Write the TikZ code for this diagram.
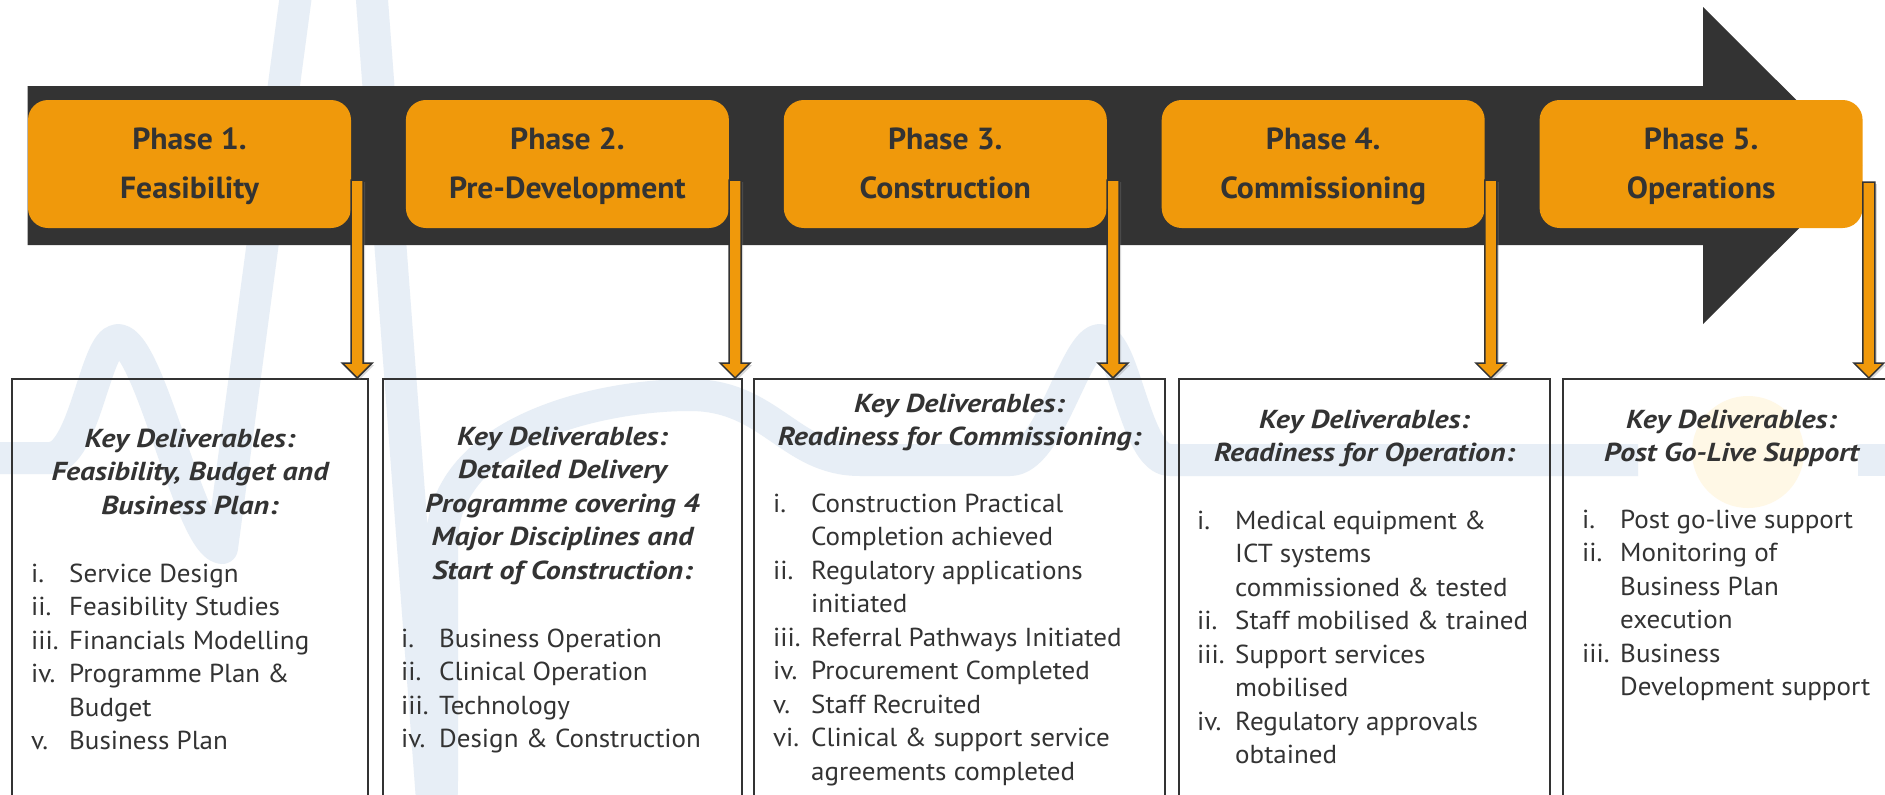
\documentclass[tikz,border=0pt]{standalone}
\usepackage{fontspec}
\setmainfont{PT Sans}[FakeStretch=1.04]
\newfontfamily\keyfont{PT Sans}[FakeStretch=1.15]
\usetikzlibrary{positioning,calc,shadows}
\definecolor{barGrey}{HTML}{333333}
\definecolor{inkGrey}{HTML}{333333}
\definecolor{phaseOrange}{HTML}{F0990B}
\definecolor{waveBlue}{HTML}{E7EEF6}
\definecolor{dotYellow}{HTML}{FFF8E6}
\newcommand{\dlabel}[1]{\makebox[38pt][l]{#1}}
\newcommand{\dindent}{\hspace*{38pt}}
\begin{document}
\begin{tikzpicture}[x=1pt, y=-1pt, node distance=54.5pt,
    phase/.style = {fill=phaseOrange, rounded corners=20pt, minimum width=323pt, minimum height=128pt,
                    inner sep=0pt, align=center, text=inkGrey, font=\bfseries\fontsize{30.5}{49}\selectfont},
    deliv/.style = {draw=inkGrey, line width=2pt, minimum height=462pt, inner sep=0pt, anchor=north},
    keytitle/.style = {anchor=north, align=center, inner sep=0pt, text=inkGrey,
                       font=\keyfont\bfseries\itshape\fontsize{26}{33.5}\selectfont},
    keylist/.style = {anchor=north west, align=left, inner sep=0pt, text=inkGrey,
                      font=\fontsize{26}{33.5}\selectfont},
    phasearrow/.style = {fill=phaseOrange, draw=inkGrey, line width=1.5pt,
                         drop shadow={shadow xshift=2pt, shadow yshift=-2pt, opacity=0.3},
                         to path={let \p1=(\tikztostart), \p2=(\tikztotarget) in
                           (\x1-6pt,\y1) -- (\x1+6pt,\y1) -- (\x1+6pt,\y2+15pt) -- (\x1+15pt,\y2+15pt)
                           -- (\x1,\y2) -- (\x1-15pt,\y2+15pt) -- (\x1-6pt,\y2+15pt) -- cycle}},
    wave/.style = {draw=waveBlue, line width=32pt, line join=round}]
    \useasboundingbox (0,0) rectangle (1885,795);
    \fill[white] (0,0) rectangle (1885,795);

    % heartbeat watermark
    \begin{scope}
        \clip (0,0) rectangle (1885,795);
        \draw[wave] (-20,458) -- (50,458) .. controls (85,458) and (95,340) .. (118,340)
            .. controls (150,340) and (190,545) .. (222,548) -- (302,-50) -- (310,-250) -- (355,-250)
            -- (372,0) -- (432,800) .. controls (434,830) and (442,830) .. (442,780) -- (442,540)
            .. controls (445,430) and (600,395) .. (690,395) .. controls (770,395) and (790,460) .. (860,460)
            -- (1010,460) .. controls (1050,460) and (1075,340) .. (1100,340)
            .. controls (1125,340) and (1135,460) .. (1170,460) -- (1638,460);
        \draw[wave] (1858,460) -- (1910,460);
        \fill[dotYellow] (1748,452) circle (56);
    \end{scope}

    % timeline bar
    \fill[barGrey] (27.5,86) -- (1703,86) -- (1703,7) -- (1862,165.5) -- (1703,324) -- (1703,245)
        -- (27.5,245) -- cycle;

    % phases
    \node[phase] (p1) at (189.5,164) {Phase 1.\strut\\Feasibility\strut};
    \node[phase] (p2) [right=of p1] {Phase 2.\strut\\Pre-Development\strut};
    \node[phase] (p3) [right=of p2] {Phase 3.\strut\\Construction\strut};
    \node[phase] (p4) [right=of p3] {Phase 4.\strut\\Commissioning\strut};
    \node[phase] (p5) [right=of p4] {Phase 5.\strut\\Operations\strut};

    % deliverable boxes
    \node[deliv, minimum width=356pt] (d1) at (190,378) {};
    \node[deliv, minimum width=359pt] (d2) at (562.5,378) {};
    \node[deliv, minimum width=411pt] (d3) at (959.5,378) {};
    \node[deliv, minimum width=371pt] (d4) at (1364.5,378) {};
    \node[deliv, minimum width=337pt] (d5) at (1731.5,378) {};

    \node[keytitle] (k1) at ([shift={(0,45.5)}]d1.north)
        {\strut Key Deliverables:\\Feasibility, Budget and\\Business Plan:};
    \node[keylist] (l1) at ([shift={(20,180.5)}]d1.north west)
        {\strut\dlabel{i.}Service Design\\\dlabel{ii.}Feasibility Studies\\\dlabel{iii.}Financials Modelling\\
         \dlabel{iv.}Programme Plan \&\\\dindent Budget\\\dlabel{v.}Business Plan};

    \node[keytitle] (k2) at ([shift={(0,43.5)}]d2.north)
        {\strut Key Deliverables:\\Detailed Delivery\\Programme covering 4\\Major Disciplines and\\Start of Construction:};
    \node[keylist] (l2) at ([shift={(19,245.5)}]d2.north west)
        {\strut\dlabel{i.}Business Operation\\\dlabel{ii.}Clinical Operation\\\dlabel{iii.}Technology\\
         \dlabel{iv.}Design \& Construction};

    \node[keytitle] (k3) at ([shift={(0,10.5)}]d3.north)
        {\strut Key Deliverables:\\Readiness for Commissioning:};
    \node[keylist] (l3) at ([shift={(20,110.5)}]d3.north west)
        {\strut\dlabel{i.}Construction Practical\\\dindent Completion achieved\\\dlabel{ii.}Regulatory applications\\
         \dindent initiated\\\dlabel{iii.}Referral Pathways Initiated\\\dlabel{iv.}Procurement Completed\\
         \dlabel{v.}Staff Recruited\\\dlabel{vi.}Clinical \& support service\\\dindent agreements completed};

    \node[keytitle] (k4) at ([shift={(0,26.5)}]d4.north)
        {\strut Key Deliverables:\\Readiness for Operation:};
    \node[keylist] (l4) at ([shift={(19,127.5)}]d4.north west)
        {\strut\dlabel{i.}Medical equipment \&\\\dindent ICT systems\\\dindent commissioned \& tested\\
         \dlabel{ii.}Staff mobilised \& trained\\\dlabel{iii.}Support services\\\dindent mobilised\\
         \dlabel{iv.}Regulatory approvals\\\dindent obtained};

    \node[keytitle] (k5) at ([shift={(0,26.5)}]d5.north)
        {\strut Key Deliverables:\\Post Go-Live Support};
    \node[keylist] (l5) at ([shift={(20,126.5)}]d5.north west)
        {\strut\dlabel{i.}Post go-live support\\\dlabel{ii.}Monitoring of\\\dindent Business Plan\\\dindent execution\\
         \dlabel{iii.}Business\\\dindent Development support};

    % arrows from phases down to deliverables
    \coordinate (a1) at ([shift={(6,16)}]p1.east);
    \coordinate (a2) at ([shift={(6,16)}]p2.east);
    \coordinate (a3) at ([shift={(6,16)}]p3.east);
    \coordinate (a4) at ([shift={(6,16)}]p4.east);
    \coordinate (a5) at ([shift={(6,18)}]p5.east);
    \draw[phasearrow] (a1) to (a1 |- d1.north);
    \draw[phasearrow] (a2) to (a2 |- d2.north);
    \draw[phasearrow] (a3) to (a3 |- d3.north);
    \draw[phasearrow] (a4) to (a4 |- d4.north);
    \draw[phasearrow] (a5) to (a5 |- d5.north);
\end{tikzpicture}
\end{document}
